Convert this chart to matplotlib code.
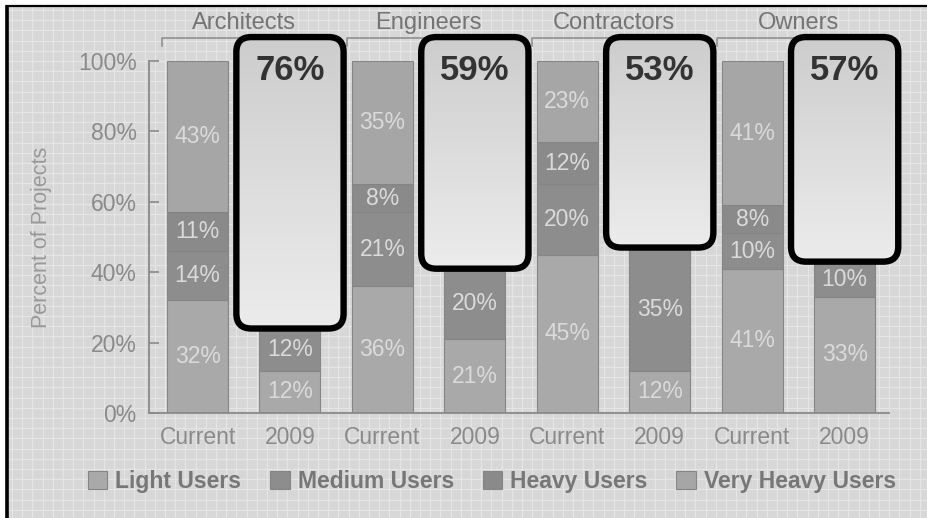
import matplotlib.pyplot as plt
import numpy as np
from matplotlib.patches import FancyBboxPatch, Rectangle
from matplotlib.colors import LinearSegmentedColormap

plt.rcParams['font.family'] = ['Liberation Sans', 'DejaVu Sans']

# Dados
grupos = ['Architects', 'Engineers', 'Contractors', 'Owners']
rotulos_x = ['Current', '2009', 'Current', '2009', 'Current', '2009', 'Current', '2009']
categorias = ['Light Users', 'Medium Users', 'Heavy Users', 'Very Heavy Users']

light = [32, 12, 36, 21, 45, 12, 41, 33]
medium = [14, 12, 21, 20, 20, 35, 10, 10]
heavy = [11, 0, 8, 0, 12, 0, 8, 0]
very_heavy = [43, 0, 35, 0, 23, 0, 41, 0]
# 2009: heavy + very heavy juntos (escondidos atrás do destaque)
destaque_2009 = [76, 59, 53, 57]

cores = ['#a9a9a9', '#8d8d8d', '#8a8a8a', '#a6a6a6']
cor_texto = '#8a8a8a'

fig = plt.figure(figsize=(9.28, 5.18), dpi=100)

# Fundo quadriculado e moldura
bg = fig.add_axes([0, 0, 1, 1], zorder=-10)
bg.set_xlim(0, 928)
bg.set_ylim(518, 0)
bg.axis('off')
bg.add_patch(Rectangle((7, 6), 921, 512, facecolor='#d7d7d7', edgecolor='none'))
bg.vlines(np.arange(12, 928, 10.2), 6, 518, color='#e5e5e5', lw=0.9)
bg.hlines(np.arange(10, 518, 10.2), 7, 928, color='#e5e5e5', lw=0.9)
bg.vlines(7, 5, 518, color='black', lw=2.6)
bg.hlines(5.5, 6, 928, color='black', lw=1.6)

ax = fig.add_axes([149 / 928, 105 / 518, 740 / 928, 352 / 518])
ax.set_facecolor('none')
x = np.arange(len(light))
largura = 0.66

base = np.zeros(len(light))
for valores, cor, nome in zip([light, medium, heavy, very_heavy], cores, categorias):
    v = np.array(valores, dtype=float)
    ax.bar(x, v, largura, bottom=base, color=cor, edgecolor='#858585', lw=0.8,
           label=nome, zorder=2)
    for xi, b, h in zip(x, base, v):
        if h > 0:
            ax.text(xi, b + h / 2, f'{int(h)}%', ha='center', va='center',
                    color='#dadada', fontsize=16.5,
                    family=['Liberation Sans Narrow', 'Liberation Sans', 'DejaVu Sans'],
                    zorder=3)
    base = base + v

# parte escondida das barras de 2009
x09 = x[1::2]
base09 = base[1::2]
ax.bar(x09, destaque_2009, largura, bottom=base09, color=cores[2],
       edgecolor='#858585', lw=0.8, zorder=2)

ax.set_xlim(-0.525, 7.48)
ax.set_ylim(0, 100)
ax.set_xticks(x)
ax.set_xticklabels(rotulos_x)
ax.set_yticks([0, 20, 40, 60, 80, 100])
ax.set_yticklabels([f'{t}%' for t in [0, 20, 40, 60, 80, 100]])
ax.tick_params(axis='x', length=0, pad=9, labelsize=16.5, labelcolor=cor_texto)
ax.tick_params(axis='y', direction='in', length=7, width=1.2, color='#8a8a8a',
               pad=9, labelsize=16.5, labelcolor=cor_texto)
for lado in ['top', 'right']:
    ax.spines[lado].set_visible(False)
for lado in ['left', 'bottom']:
    ax.spines[lado].set_color('#8a8a8a')
    ax.spines[lado].set_linewidth(1.3)
ax.set_ylabel('Percent of Projects', fontsize=15.5, color='#999999')
ax.yaxis.set_label_coords(-0.131, 0.5)

# Grupos com colchetes
for i, g in enumerate(grupos):
    c = 2 * i + 0.5
    ax.plot([c - 0.88, c - 0.88, c + 0.88, c + 0.88], [104.3, 106.5, 106.5, 104.3],
            color='#8a8a8a', lw=1.1, clip_on=False, zorder=1)
    ax.text(c, 110.8, g, ha='center', va='center', fontsize=17, color='#747474',
            clip_on=False)

# Destaques arredondados com gradiente
px_x = 740 / (7.48 + 0.525)
px_y = 352 / 100
aspecto = px_x / px_y
raio = 15 / px_x
larg_box = 1.16
topo = 106.8
cmap = LinearSegmentedColormap.from_list('grad', ['#ececec', '#cdcdcd'])
grad = np.linspace(0, 1, 256).reshape(-1, 1)
for xi, b, d in zip(x09, base09, destaque_2009):
    x0 = xi - larg_box / 2
    caixa = FancyBboxPatch((x0, b), larg_box, topo - b,
                           boxstyle=f'round,pad=0,rounding_size={raio}',
                           mutation_aspect=aspecto, facecolor='none',
                           edgecolor='black', lw=4.6, clip_on=False, zorder=6)
    ax.add_patch(caixa)
    im = ax.imshow(grad, extent=[x0, x0 + larg_box, b, topo], origin='lower',
                   cmap=cmap, aspect='auto', zorder=5)
    im.set_clip_path(caixa)
    im.set_clip_box(fig.bbox)
    ax.text(xi, 97.4, f'{d}%', ha='center', va='center', fontsize=25,
            fontweight='bold', color='#333333', zorder=7, clip_on=False)

ax.set_xlim(-0.525, 7.48)
ax.set_ylim(0, 100)

fig.legend(loc='center', bbox_to_anchor=(0.53, 0.07), ncol=4, frameon=False,
           handlelength=0.85, handleheight=0.85, handletextpad=0.35,
           columnspacing=1.25, prop={'size': 16.5, 'weight': 'bold'},
           labelcolor='#777777')

fig.savefig('out.png', dpi=100, facecolor='white')
